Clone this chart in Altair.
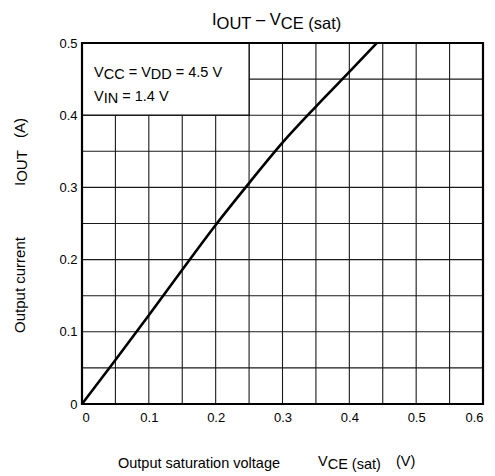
import altair as alt
import pandas as pd

# ---- data ----
vce = [0, 0.05, 0.1, 0.15, 0.2, 0.25, 0.3, 0.35, 0.4, 0.441]
iout = [0, 0.061, 0.123, 0.186, 0.248, 0.306, 0.362, 0.412, 0.46, 0.5]
x_grid = [0.05, 0.1, 0.15, 0.2, 0.25, 0.3, 0.35, 0.4, 0.45, 0.5, 0.55]
y_grid = [0.05, 0.1, 0.15, 0.2, 0.25, 0.3, 0.35, 0.4, 0.45]
x_ticks = [0, 0.1, 0.2, 0.3, 0.4, 0.5, 0.6]
y_ticks = [0, 0.1, 0.2, 0.3, 0.4, 0.5]
box_x = [0, 0.25]
box_y = [0.4, 0.5]

FONT = "Liberation Sans"
W, H = 401, 361
OX, OY = 82, 43  # plot origin on the page

ARIAL = {' ': 278, 'V': 667, 'C': 722, 'D': 722, 'E': 667, 'I': 278, 'N': 722,
         'O': 778, 'U': 722, 'T': 611, '=': 584, '.': 278, '(': 333, ')': 333,
         's': 500, 'a': 556, 't': 278, '–': 556, 'A': 667, 'u': 556, 'p': 556,
         'c': 500, 'r': 333, 'e': 556, 'n': 556, 'o': 556, 'l': 222, 'g': 556,
         'v': 500, 'i': 222}


def tw(s, size):
    return sum(ARIAL.get(c, 556) for c in s) * size / 1000.0


one = pd.DataFrame({"k": [0]})


def run(pieces, x0, y0, size):
    out = []
    x = x0
    for t, dy in pieces:
        lead = len(t) - len(t.lstrip(" "))
        stripped = t.strip(" ")
        xs_ = x + tw(" " * lead, size)
        out.append(
            alt.Chart(one).mark_text(text=stripped, font=FONT, fontSize=size, align="left",
                                     baseline="alphabetic", color="black")
            .encode(x=alt.value(xs_ - OX), y=alt.value(y0 + dy - OY))
        )
        x += tw(t, size)
    return out


def vtext(t, cx, cy, size):
    return (alt.Chart(one).mark_text(text=t, font=FONT, fontSize=size, angle=270, align="center",
                                     baseline="middle", color="black")
            .encode(x=alt.value(cx - OX), y=alt.value(cy - OY)))


xs = alt.Scale(domain=[0, 0.6], nice=False, zero=False)
ys = alt.Scale(domain=[0, 0.5], nice=False, zero=False)
xax = alt.Axis(values=x_ticks, format="~g", title=None, labelPadding=7)
yax = alt.Axis(values=y_ticks, format="~g", title=None, labelPadding=5)

vgrid = alt.Chart(pd.DataFrame({"x": x_grid})).mark_rule(color="#1a1a1a", strokeWidth=1.1).encode(
    x=alt.X("x:Q", scale=xs, axis=xax), y=alt.value(0), y2=alt.value(H))
hgrid = alt.Chart(pd.DataFrame({"y": y_grid})).mark_rule(color="#1a1a1a", strokeWidth=1.1).encode(
    y=alt.Y("y:Q", scale=ys, axis=yax), x=alt.value(0), x2=alt.value(W))

boxdf = pd.DataFrame({"x": [box_x[0]], "x2": [box_x[1]], "y": [box_y[0]], "y2": [box_y[1]]})
box = alt.Chart(boxdf).mark_rect(fill="white", stroke="black", strokeWidth=1.2).encode(
    x=alt.X("x:Q", scale=xs, axis=xax), x2="x2:Q", y=alt.Y("y:Q", scale=ys, axis=yax), y2="y2:Q")

framedf = pd.DataFrame({"x": [0], "x2": [0.6], "y": [0], "y2": [0.5]})
frame = alt.Chart(framedf).mark_rect(fillOpacity=0, stroke="black", strokeWidth=2.2).encode(
    x=alt.X("x:Q", scale=xs, axis=xax), x2="x2:Q", y=alt.Y("y:Q", scale=ys, axis=yax), y2="y2:Q")

curve = alt.Chart(pd.DataFrame({"vce": vce, "iout": iout})).mark_line(
    color="black", strokeWidth=2.6, interpolate="monotone").encode(
    x=alt.X("vce:Q", scale=xs, axis=xax), y=alt.Y("iout:Q", scale=ys, axis=yax))

texts = []
# title
texts += run([("I", 0), ("OUT", 3.5), (" – ", 0), ("V", 0), ("CE (sat)", 3.5)], 212, 25, 16.5)
# legend
texts += run([("V", 0), ("CC", 2), (" = V", 0), ("DD", 2), (" = 4.5 V", 0)], 94, 77, 14.5)
texts += run([("V", 0), ("IN", 2), (" = 1.4 V", 0)], 94, 101, 14.5)
# x title
texts += run([("Output saturation voltage", 0)], 118, 468, 14.5)
texts += run([("V", 0), ("CE (sat)", 3)], 318, 466, 14.5)
texts += run([("(V)", 0)], 396, 466, 14.5)
# y title (rotated)
texts += [vtext("Output current", 20, 285, 15), vtext("I", 20, 184, 15),
          vtext("OUT", 22, 166, 15), vtext("(A)", 20, 128, 15)]

chart = alt.layer(vgrid, hgrid, box, curve, frame, *texts).properties(
    width=W, height=H,
    autosize=alt.AutoSizeParams(type="none"),
    padding={"left": OX - 8, "top": OY - 8, "right": 4, "bottom": 72},
).configure_axis(
    grid=False, domain=False, ticks=False, labelFont=FONT, labelFontSize=13,
    labelColor="black",
).configure_view(stroke=None)

chart.save("out.html", embed_options={"renderer": "svg", "actions": False})
